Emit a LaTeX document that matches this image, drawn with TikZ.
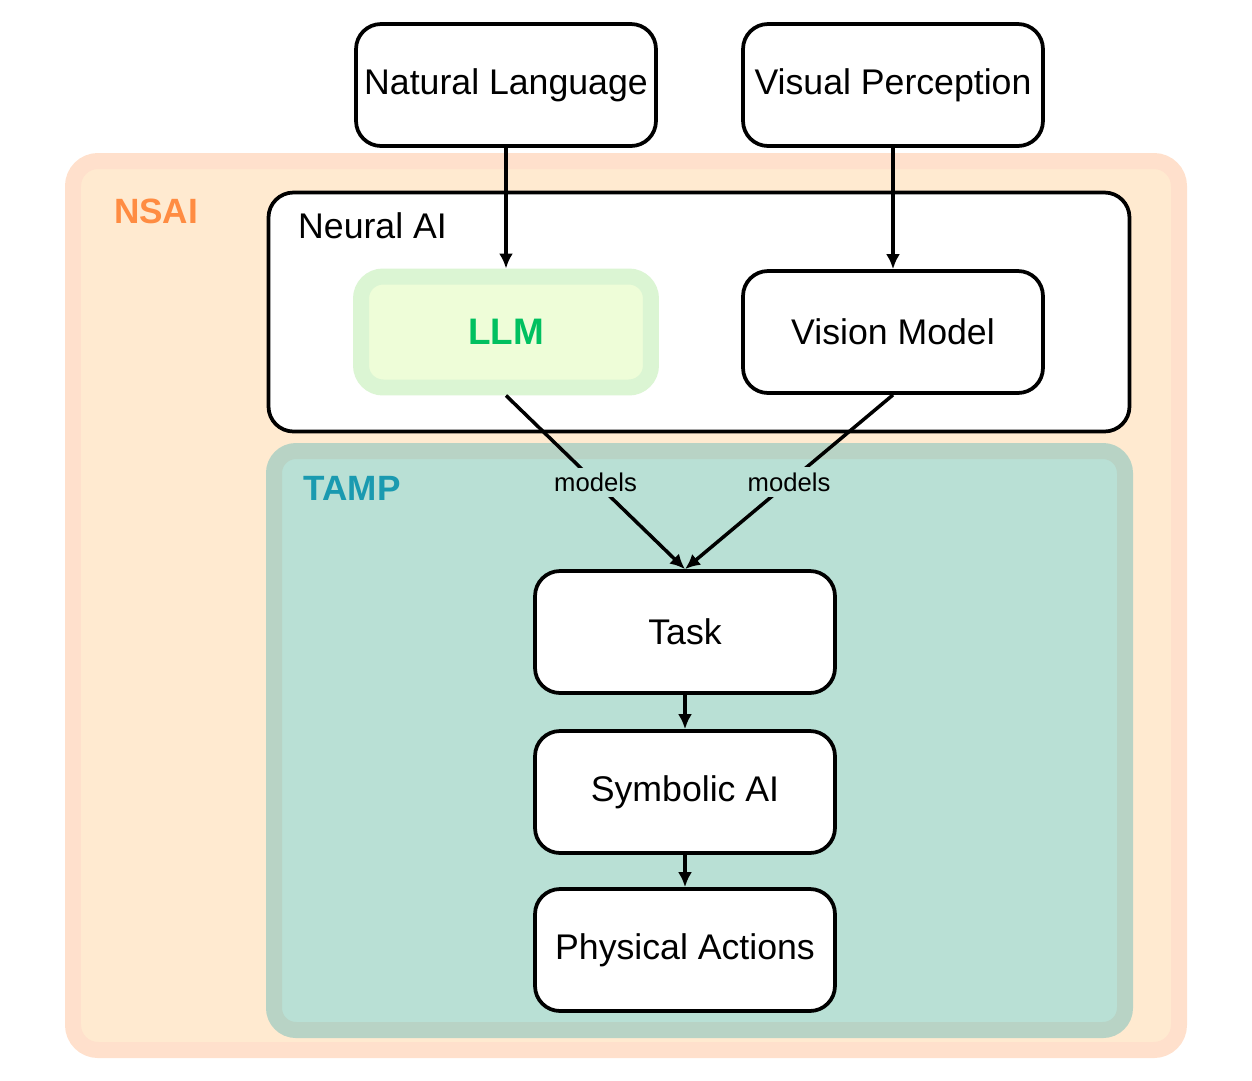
\documentclass[tikz,border=0pt]{standalone}
\usepackage{fontspec}
\setmainfont{Liberation Sans}
\usepackage{xcolor}
\usetikzlibrary{arrows.meta}
\definecolor{nsaiborder}{HTML}{FFE0CC}
\definecolor{nsaifill}{HTML}{FFEAD0}
\definecolor{nsaitext}{HTML}{FF8C42}
\definecolor{tampborder}{HTML}{B8D3C5}
\definecolor{tampfill}{HTML}{B9E0D5}
\definecolor{tamptext}{HTML}{1A9AB0}
\definecolor{llmborder}{HTML}{DBF5D3}
\definecolor{llmfill}{HTML}{EEFDD8}
\definecolor{llmtext}{HTML}{00C060}
\tikzset{
  stagenode/.style={rectangle,rounded corners=0.5cm,draw=black,fill=white,
    line width=0.075cm,minimum width=6.0cm,minimum height=2.44cm,
    inner sep=1pt,font=\fontsize{20.3}{23}\selectfont},
  llmnode/.style={rectangle,rounded corners=0.44cm,draw=llmborder,fill=llmfill,
    line width=0.32cm,minimum width=5.8cm,minimum height=2.22cm,
    inner sep=1pt,text=llmtext,font=\fontsize{21}{24}\selectfont\bfseries},
  groupframe/.style={line width=0.32cm,rounded corners=0.5cm},
  grouplabel/.style={anchor=center,font=\fontsize{20}{23}\selectfont\bfseries},
  flowedge/.style={line width=0.07cm,-{Latex[length=0.3cm,width=0.28cm]}},
  edgelabel/.style={fill=tampfill,inner sep=3pt,font=\fontsize{14.6}{17}\selectfont}
}
\begin{document}
\begin{tikzpicture}[x=0.02cm,y=-0.02cm]
  \useasboundingbox (0,0) rectangle (1252,1080);

  % containers
  \draw[groupframe,draw=nsaiborder,fill=nsaifill] (73,161) rectangle (1179,1050);
  \node[grouplabel,text=nsaitext] (nsai) at (156,211) {NSAI};
  \draw[line width=0.075cm,rounded corners=0.5cm,fill=white] (268.5,192.5) rectangle (1129.5,431.5);
  \node[anchor=west,font=\fontsize{20.3}{23}\selectfont] (neural) at (292,226) {Neural AI};
  \draw[groupframe,rounded corners=0.44cm,draw=tampborder,fill=tampfill] (274,451) rectangle (1125,1030);
  \node[grouplabel,text=tamptext] (tamp) at (352,488) {TAMP};

  % inputs
  \node[stagenode] (lang) at (506,85) {Natural Language};
  \node[stagenode] (vis) at (893,85) {Visual Perception};

  % neural models
  \node[llmnode] (llm) at (506,332) {LLM};
  \node[stagenode] (vmod) at (893,332) {Vision Model};

  % planning chain
  \node[stagenode] (task) at (685,632) {Task};
  \node[stagenode] (sym) at (685,792) {Symbolic AI};
  \node[stagenode] (act) at (685,950) {Physical Actions};

  \draw[flowedge] (lang)--(llm.north);
  \draw[flowedge] (vis)--(vmod);
  \draw[flowedge] (llm.south)--node[edgelabel]{models}(task.north);
  \draw[flowedge] (vmod.south)--node[edgelabel]{models}(task.north);
  \draw[flowedge] (task)--(sym);
  \draw[flowedge] (sym)--(act);
\end{tikzpicture}
\end{document}
